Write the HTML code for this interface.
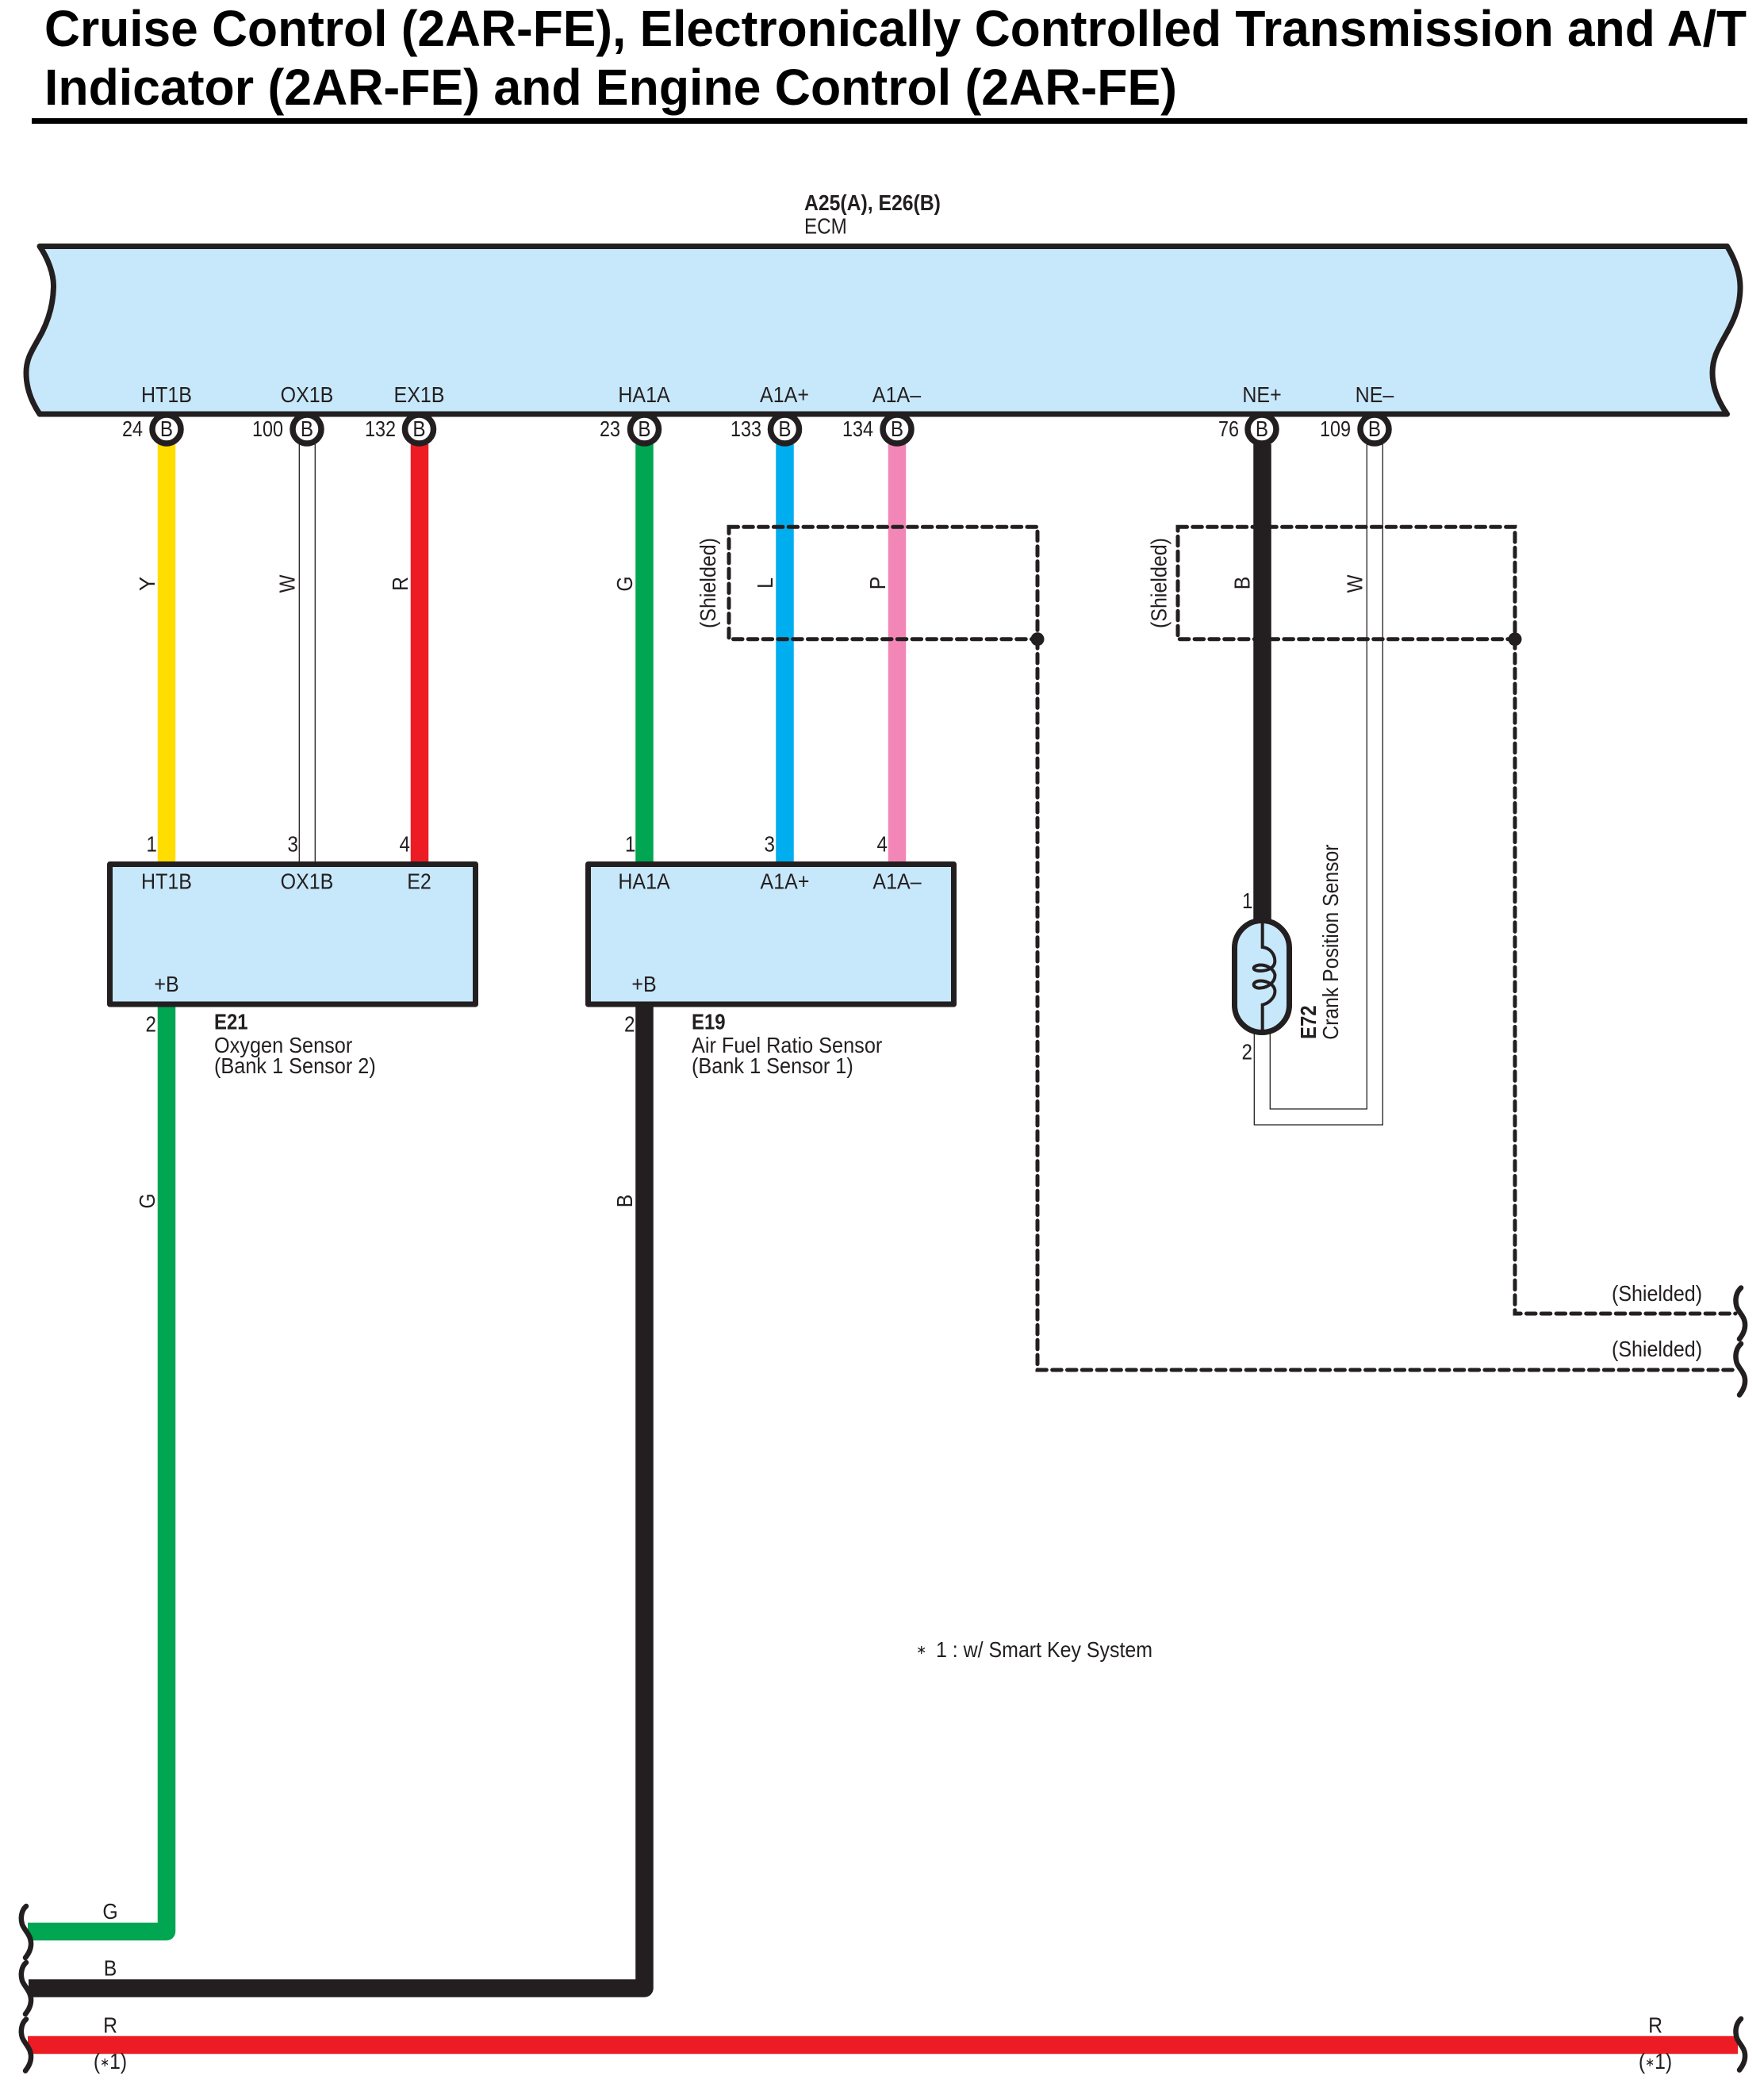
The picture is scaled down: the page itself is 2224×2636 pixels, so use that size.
<!DOCTYPE html>
<html><head><meta charset="utf-8"><title>Cruise Control (2AR-FE) wiring diagram</title>
<style>
html,body{margin:0;padding:0;background:#fff}
svg{display:block}
text{font-family:"Liberation Sans",Arial,sans-serif;font-size:27.5px;fill:#231F20}
.m{text-anchor:middle}
.e{text-anchor:end}
.b{font-weight:bold}
.title{font-size:64px;font-weight:bold;fill:#000}
.w{fill:none;stroke-width:22.5}
.thin{fill:none;stroke:#231F20;stroke-width:1.3}
.d{fill:none;stroke:#231F20;stroke-width:5;stroke-dasharray:11.5 7.3;stroke-linecap:round}
.br{fill:none;stroke:#231F20;stroke-width:6.5;stroke-linecap:round}
.pin{fill:#fff;stroke:#231F20;stroke-width:7.5}
.box{fill:#C7E8FA;stroke:#231F20;stroke-width:7;stroke-linejoin:round}
</style></head><body>
<svg xmlns="http://www.w3.org/2000/svg" width="2224" height="2636" viewBox="0 0 2224 2636">
<rect width="2224" height="2636" fill="#fff"/>

<text class="title" x="56" y="58" textLength="2146" lengthAdjust="spacingAndGlyphs">Cruise Control (2AR-FE), Electronically Controlled Transmission and A/T</text>
<text class="title" x="56" y="132" textLength="1428" lengthAdjust="spacingAndGlyphs">Indicator (2AR-FE) and Engine Control (2AR-FE)</text>
<rect x="40" y="149" width="2163" height="7" fill="#000"/>

<text class="b" transform="translate(1014 265) scale(.9 1)">A25(A), E26(B)</text>
<text transform="translate(1014 294.5) scale(.88 1)">ECM</text>

<path class="box" d="M50 310.5 H2177.5 C2188 328 2194 345 2194 362 C2194 385 2187 402 2178 418 C2167 438 2159 450 2159 470 C2159 490 2167 507 2177.5 522 H50 C40 507 33 490 33 470 C33 450 42 440 53 419 C60 405 67 385 67.5 362 C68 345 60 325 50 310.5 Z"/>

<!-- wires -->
<path class="w" stroke="#FFDD00" d="M210 560 V1090"/>
<path class="w" stroke="#ED1C24" d="M529 560 V1090"/>
<path class="w" stroke="#00A651" d="M812.5 560 V1090"/>
<path class="w" stroke="#00AEEF" d="M989.5 560 V1090"/>
<path class="w" stroke="#F287B7" d="M1131 560 V1090"/>
<path class="w" stroke="#231F20" d="M1591.5 560 V1165"/>
<path class="thin" d="M377.3 560 V1088 M397.3 560 V1088"/>
<path class="thin" d="M1723.3 560 V1398 H1601.3 V1300"/>
<path class="thin" d="M1743.3 560 V1418 H1581.3 V1300"/>

<path class="w" stroke="#00A651" stroke-linejoin="round" d="M35 2435 H210 V1266"/>
<path class="w" stroke="#231F20" stroke-linejoin="round" d="M36 2506.5 H812.5 V1266"/>
<path class="w" stroke="#ED1C24" d="M35 2578 H2191"/>

<!-- shields -->
<path class="d" d="M919 664.3 H1308 V805.7 H919 Z"/>
<path class="d" d="M1308 805.7 V1727 H2187"/>
<circle cx="1308" cy="805.7" r="8.5" fill="#231F20"/>
<path class="d" d="M1485 664.3 H1910 V805.7 H1485 Z"/>
<path class="d" d="M1910 805.7 V1656 H2188"/>
<circle cx="1910" cy="805.7" r="8.5" fill="#231F20"/>

<!-- ECM pin circles -->
<circle class="pin" cx="210" cy="541" r="18"/>
<circle class="pin" cx="387" cy="541" r="18"/>
<circle class="pin" cx="528.5" cy="541" r="18"/>
<circle class="pin" cx="812.5" cy="541" r="18"/>
<circle class="pin" cx="989.5" cy="541" r="18"/>
<circle class="pin" cx="1131" cy="541" r="18"/>
<circle class="pin" cx="1591" cy="541" r="18"/>
<circle class="pin" cx="1733" cy="541" r="18"/>

<g>
<text class="m" transform="translate(210 550) scale(.88 1)">B</text>
<text class="m" transform="translate(387 550) scale(.88 1)">B</text>
<text class="m" transform="translate(528.5 550) scale(.88 1)">B</text>
<text class="m" transform="translate(812.5 550) scale(.88 1)">B</text>
<text class="m" transform="translate(989.5 550) scale(.88 1)">B</text>
<text class="m" transform="translate(1131 550) scale(.88 1)">B</text>
<text class="m" transform="translate(1591 550) scale(.88 1)">B</text>
<text class="m" transform="translate(1733 550) scale(.88 1)">B</text>

<text class="e" transform="translate(180 550) scale(.85 1)">24</text>
<text class="e" transform="translate(357 550) scale(.85 1)">100</text>
<text class="e" transform="translate(499 550) scale(.85 1)">132</text>
<text class="e" transform="translate(782 550) scale(.85 1)">23</text>
<text class="e" transform="translate(960 550) scale(.85 1)">133</text>
<text class="e" transform="translate(1101 550) scale(.85 1)">134</text>
<text class="e" transform="translate(1562 550) scale(.85 1)">76</text>
<text class="e" transform="translate(1703 550) scale(.85 1)">109</text>

<text class="m" transform="translate(210 507) scale(.91 1)">HT1B</text>
<text class="m" transform="translate(387 507) scale(.91 1)">OX1B</text>
<text class="m" transform="translate(528.5 507) scale(.91 1)">EX1B</text>
<text class="m" transform="translate(812 507) scale(.91 1)">HA1A</text>
<text class="m" transform="translate(989 507) scale(.91 1)">A1A+</text>
<text class="m" transform="translate(1130.5 507) scale(.91 1)">A1A–</text>
<text class="m" transform="translate(1591 507) scale(.91 1)">NE+</text>
<text class="m" transform="translate(1733 507) scale(.91 1)">NE–</text>
</g>

<!-- rotated wire colours -->
<text class="m" transform="translate(195 736) rotate(-90)">Y</text>
<text class="m" transform="translate(371.7 736) rotate(-90) scale(.88 1)">W</text>
<text class="m" transform="translate(514 736) rotate(-90) scale(.9 1)">R</text>
<text class="m" transform="translate(797 736) rotate(-90) scale(.9 1)">G</text>
<text class="m" transform="translate(974 735) rotate(-90) scale(.9 1)">L</text>
<text class="m" transform="translate(1116 735) rotate(-90) scale(.9 1)">P</text>
<text class="m" transform="translate(1575.7 735) rotate(-90) scale(.9 1)">B</text>
<text class="m" transform="translate(1717.7 736) rotate(-90) scale(.88 1)">W</text>
<text class="m" transform="translate(195 1514) rotate(-90) scale(.9 1)">G</text>
<text class="m" transform="translate(797 1514) rotate(-90) scale(.9 1)">B</text>
<text class="m" transform="translate(902 735) rotate(-90) scale(.91 1)">(Shielded)</text>
<text class="m" transform="translate(1470.5 735) rotate(-90) scale(.91 1)">(Shielded)</text>

<!-- E21 -->
<rect class="box" x="138.5" y="1089.5" width="461" height="176.5"/>
<text class="e" transform="translate(198 1073.3) scale(.88 1)">1</text>
<text class="e" transform="translate(376 1073.3) scale(.88 1)">3</text>
<text class="e" transform="translate(517 1073.3) scale(.88 1)">4</text>
<text class="m" transform="translate(210 1120.7) scale(.91 1)">HT1B</text>
<text class="m" transform="translate(387 1120.7) scale(.91 1)">OX1B</text>
<text class="m" transform="translate(528.5 1120.7) scale(.91 1)">E2</text>
<text class="m" transform="translate(210 1250) scale(.91 1)">+B</text>
<text class="e" transform="translate(197 1300.7) scale(.88 1)">2</text>
<text class="b" transform="translate(270 1297.7) scale(.87 1)">E21</text>
<text transform="translate(270 1327) scale(.92 1)">Oxygen Sensor</text>
<text transform="translate(270 1353) scale(.92 1)">(Bank 1 Sensor 2)</text>

<!-- E19 -->
<rect class="box" x="741.5" y="1089.5" width="461" height="176.5"/>
<text class="e" transform="translate(801.5 1073.3) scale(.88 1)">1</text>
<text class="e" transform="translate(977 1073.3) scale(.88 1)">3</text>
<text class="e" transform="translate(1119 1073.3) scale(.88 1)">4</text>
<text class="m" transform="translate(812 1120.7) scale(.91 1)">HA1A</text>
<text class="m" transform="translate(989.5 1120.7) scale(.91 1)">A1A+</text>
<text class="m" transform="translate(1131 1120.7) scale(.91 1)">A1A–</text>
<text class="m" transform="translate(812 1250) scale(.91 1)">+B</text>
<text class="e" transform="translate(800.5 1300.7) scale(.88 1)">2</text>
<text class="b" transform="translate(872 1297.7) scale(.87 1)">E19</text>
<text transform="translate(872 1327) scale(.92 1)">Air Fuel Ratio Sensor</text>
<text transform="translate(872 1353) scale(.92 1)">(Bank 1 Sensor 1)</text>

<!-- E72 -->
<rect x="1556.5" y="1160.5" width="69" height="141" rx="34.5" ry="34.5" fill="#C7E8FA" stroke="#231F20" stroke-width="7"/>
<g transform="translate(1480 1020) scale(.33333)">
<path fill="none" stroke="#231F20" stroke-width="12" d="M335 430 L335 522 C365 525 382 550 382 575 C382 600 355 612 325 612 C298 612 293 595 320 590 C345 587 375 600 382 625 C385 650 360 675 325 677 C298 677 293 655 320 650 C345 647 378 660 382 685 C385 710 360 735 335 740 L335 835"/>
</g>
<text class="e" transform="translate(1579.5 1145) scale(.88 1)">1</text>
<text class="e" transform="translate(1579 1335.7) scale(.88 1)">2</text>
<text class="b" transform="translate(1659 1310) rotate(-90) scale(.87 1)">E72</text>
<text transform="translate(1687 1310.7) rotate(-90) scale(.9 1)">Crank Position Sensor</text>

<!-- right shielded labels -->
<text transform="translate(2032 1640) scale(.91 1)">(Shielded)</text>
<text transform="translate(2032 1710) scale(.91 1)">(Shielded)</text>

<!-- braces right -->
<path class="br" d="M2195 1623.5 C2189 1629 2187 1638 2189.5 1647 C2192 1655 2201 1660 2200 1672 C2199.5 1679 2196 1684 2193 1688"/>
<path class="br" transform="translate(0 70.5)" d="M2195 1623.5 C2189 1629 2187 1638 2189.5 1647 C2192 1655 2201 1660 2200 1672 C2199.5 1679 2196 1684 2193 1688"/>
<path class="br" transform="translate(0 921.5)" d="M2195 1623.5 C2189 1629 2187 1638 2189.5 1647 C2192 1655 2201 1660 2200 1672 C2199.5 1679 2196 1684 2193 1688"/>

<!-- braces left -->
<path class="br" d="M33 2403 C27 2408 25.5 2418 28 2426 C31 2434 40 2440 39 2452 C38.5 2459 35 2464 32 2468"/>
<path class="br" transform="translate(0 71)" d="M33 2403 C27 2408 25.5 2418 28 2426 C31 2434 40 2440 39 2452 C38.5 2459 35 2464 32 2468"/>
<path class="br" transform="translate(0 142.5)" d="M33 2403 C27 2408 25.5 2418 28 2426 C31 2434 40 2440 39 2452 C38.5 2459 35 2464 32 2468"/>

<!-- bottom labels -->
<text class="m" transform="translate(139 2419) scale(.9 1)">G</text>
<text class="m" transform="translate(139 2490.7) scale(.9 1)">B</text>
<text class="m" transform="translate(139 2562.7) scale(.9 1)">R</text>
<text class="m" transform="translate(139 2608) scale(.9 1)">(<tspan font-size="16" dy="-3">∗</tspan><tspan dy="3">1)</tspan></text>
<text class="m" transform="translate(2087 2562.7) scale(.9 1)">R</text>
<text class="m" transform="translate(2087 2608) scale(.9 1)">(<tspan font-size="16" dy="-3">∗</tspan><tspan dy="3">1)</tspan></text>

<text font-size="16" style="font-size:16px" x="1155" y="2085">∗</text>
<text transform="translate(1180 2089) scale(.907 1)">1 : w/ Smart Key System</text>
</svg>
</body></html>
